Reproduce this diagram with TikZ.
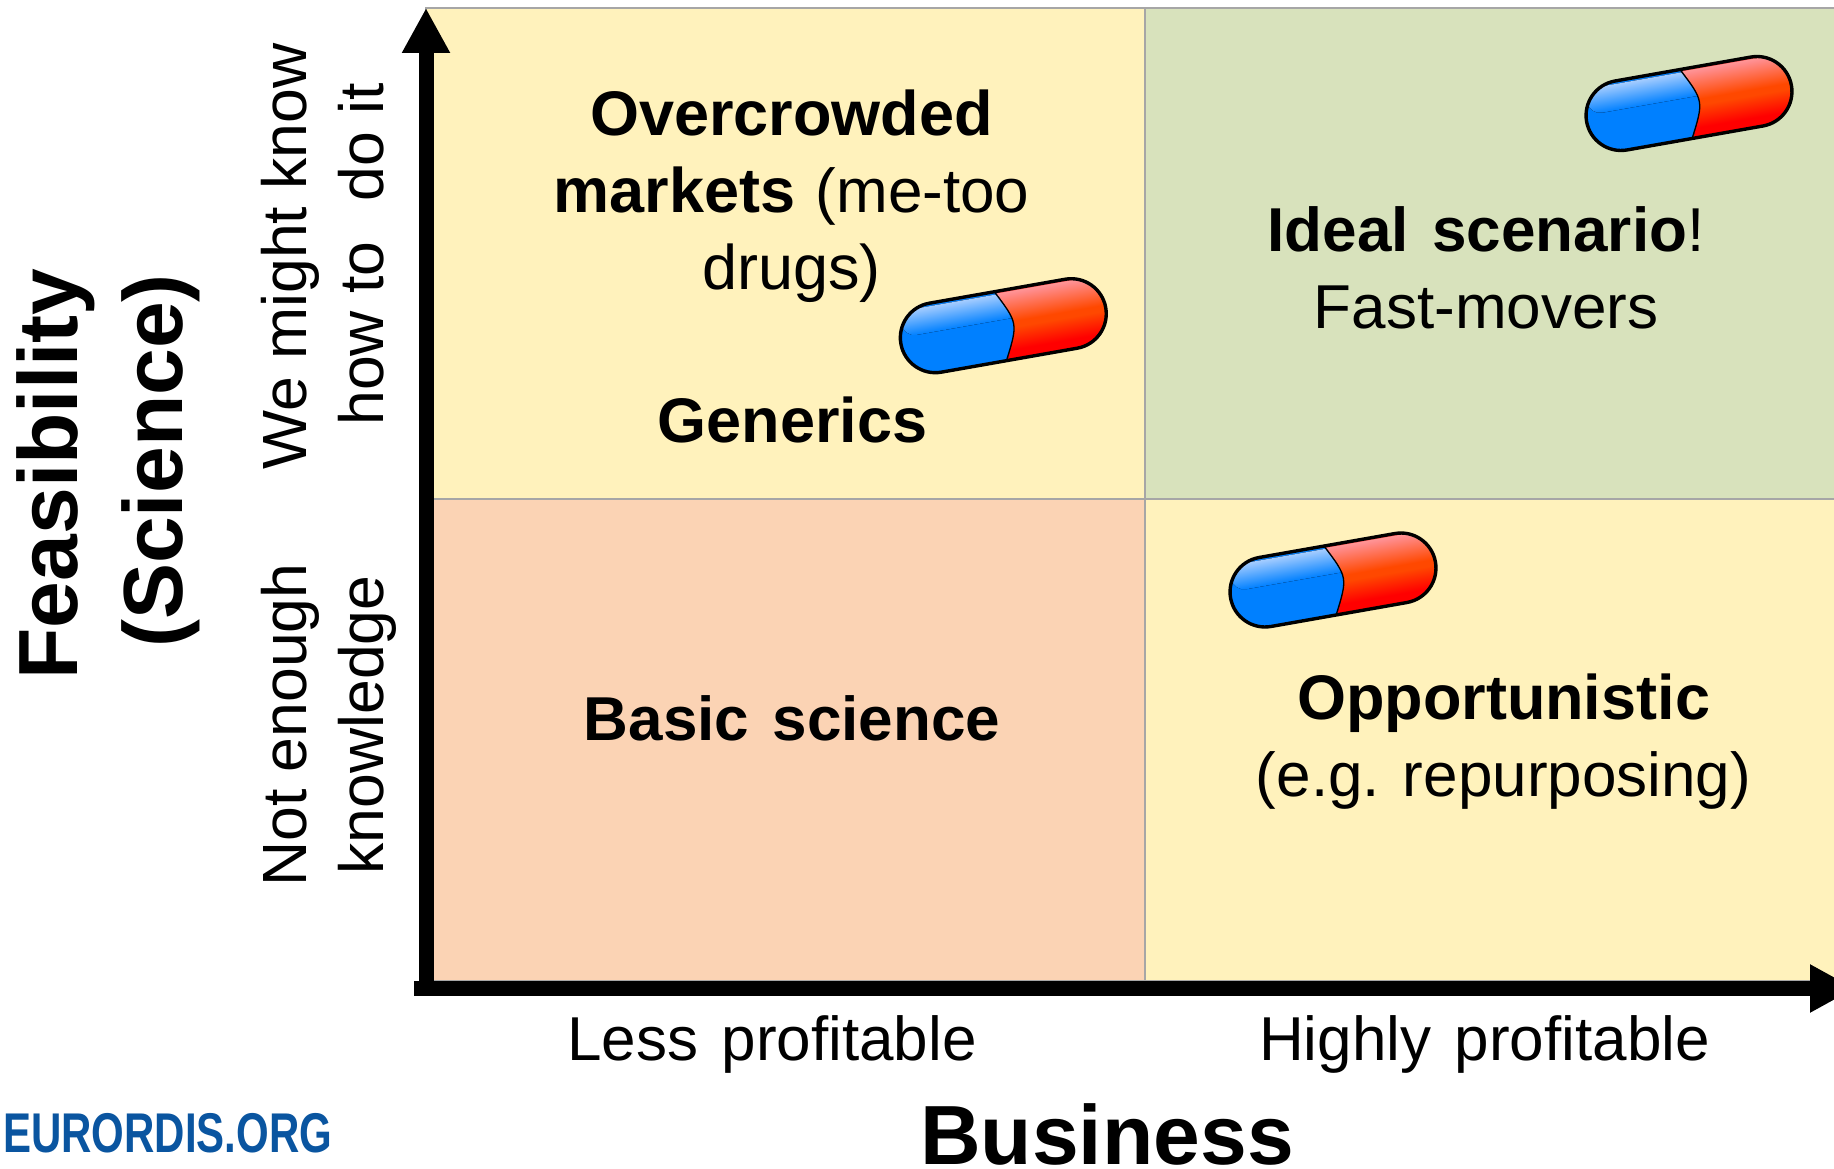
\documentclass[tikz,border=0pt]{standalone}
\usepackage{fontspec}
\setmainfont{Liberation Sans}
\usetikzlibrary{arrows.meta}
\definecolor{cellyellow}{HTML}{FFF2BC}
\definecolor{cellgreen}{HTML}{D8E2BC}
\definecolor{cellorange}{HTML}{FBD3B4}
\definecolor{cellline}{HTML}{A6A6A6}
\definecolor{pillblue}{HTML}{0080FF}
\definecolor{pillhigh}{HTML}{A4CCFF}
\definecolor{logoblue}{HTML}{0A55A0}
\pgfdeclareverticalshading{pillred}{100bp}{
  color(0bp)=(red);
  color(33bp)=(red);
  color(48bp)=({rgb,255:red,255;green,72;blue,0});
  color(52bp)=({rgb,255:red,255;green,72;blue,0});
  color(70.5bp)=({rgb,255:red,255;green,140;blue,140});
  color(72.4bp)=({rgb,255:red,255;green,150;blue,150});
  color(73.4bp)=(red);
  color(100bp)=(red)}
\newcommand{\drawpill}[2]{%
  \begin{scope}[transform canvas={shift={(#1,#2)},rotate=10}]
    \begin{scope}
      \clip[rounded corners=35pt] (-104,-35) rectangle (104,35);
      \fill[pillblue] (-106,-37) rectangle (20,37);
      \fill[rounded corners=13pt,top color=pillhigh,bottom color=pillblue] (-100,-32) rectangle (30,-6);
      \fill[shading=pillred] (-3,-37) .. controls (15,0) .. (-3,37) -- (106,37) -- (106,-37) -- cycle;
    \end{scope}
    \draw[line width=1.3pt] (-3,-35) .. controls (15,0) .. (-3,35);
    \draw[line width=3.4pt,rounded corners=35pt] (-104,-35) rectangle (104,35);
  \end{scope}}
\tikzset{
  cell/.style={draw=cellline,line width=1.5pt},
  bigtext/.style={font=\fontsize{62}{77}\selectfont,align=center,inner sep=0pt,text=black},
  boldtext/.style={bigtext,font=\fontsize{63}{77}\selectfont},
  hugetext/.style={font=\bfseries\fontsize{84}{105}\selectfont,align=center,inner sep=0pt,text=black},
  axisline/.style={line width=15pt,-{Triangle[length=45pt,width=45pt]}},
  axisshadow/.style={axisline,black,opacity=0.10}
}
\begin{document}
\begin{tikzpicture}[x=1pt,y=-1pt]
\useasboundingbox (0,0) rectangle (1834,1169);
\clip (0,0) rectangle (1834,1169);
% cells
\fill[white] (0,0) rectangle (1834,1169);
\path[cell,fill=cellyellow] (426,8) rectangle (1145,499);
\path[cell,fill=cellgreen] (1145,8) rectangle (1840,499);
\path[cell,fill=cellorange] (426,499) rectangle (1145,981);
\path[cell,fill=cellyellow] (1145,499) rectangle (1840,981);
% axes
\coordinate (yfoot) at (426,988);
\coordinate (ytip) at (426,8);
\coordinate (xfoot) at (414,988.5);
\coordinate (xtip) at (1855,988.5);
\begin{scope}[shift={(2,3.5)}]
  \draw[axisshadow] (yfoot) -- (ytip);
  \draw[axisshadow] (xfoot) -- (xtip);
\end{scope}
\draw[axisline] (yfoot) -- (ytip);
\draw[axisline] (xfoot) -- (xtip);
% quadrant texts
\node[boldtext] (over) at (791.5,196) {\textbf{Overcrowded}\\\textbf{markets}\hspace{0.05em} \fontsize{62}{77}\selectfont(me-too\\drugs)};
\node[boldtext] (gen) at (792.5,420) {\textbf{Generics}};
\node[bigtext] (ideal) at (1486,268) {\textbf{Ideal\hspace{0.1em} scenario}!\\Fast-movers};
\node[bigtext] (basic) at (792,718.5) {\textbf{Basic\hspace{0.1em} science}};
\node[bigtext] (opp) at (1503.5,742) {\fontsize{63}{77}\selectfont\textbf{Opportunistic}\\(e.g. repurposing)};
% axis labels
\node[bigtext] (less) at (772,1044.5) {Less\hspace{0.1em} profitable};
\node[bigtext] (high) at (1484.5,1044.5) {Highly\hspace{0.1em} profitable};
\node[hugetext] (biz) at (1107,1134) {Business};
\node[hugetext,rotate=90] (feas) at (108,474) {Feasibility\\\hspace*{26pt}(Science)};
\node[bigtext,rotate=90,font=\fontsize{62.5}{77}\selectfont] (know) at (323,256.5) {We might know\\\hspace*{4pt}how to\hspace{0.36em} do it};
\node[bigtext,rotate=90,font=\fontsize{62.5}{77}\selectfont] (notk) at (329,725) {Not enough\\knowledge};
% logo
\node[inner sep=0pt,anchor=west,text=logoblue,font=\bfseries\fontsize{56}{60}\selectfont,xscale=0.75] (logo) at (3,1133) {EURORDIS.ORG};
% pills
\drawpill{1003.3}{325.7}
\drawpill{1689}{103.5}
\drawpill{1333}{580}
\end{tikzpicture}
\end{document}
